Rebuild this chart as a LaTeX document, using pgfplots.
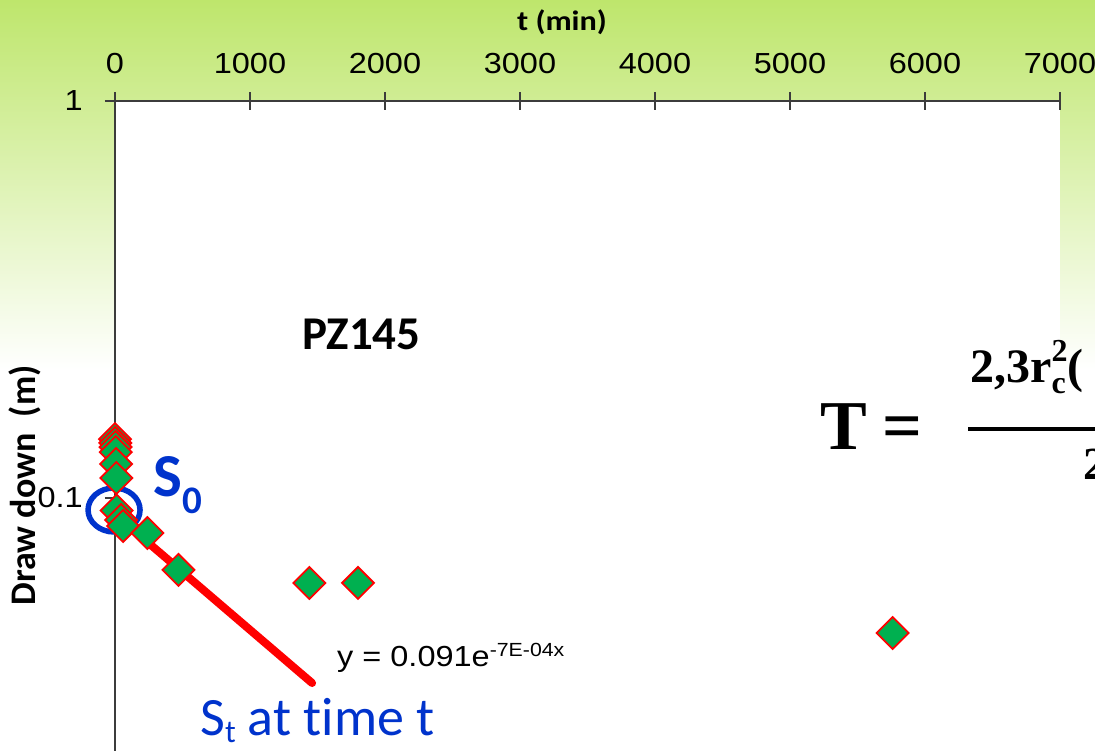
\documentclass[border=0pt]{standalone}
\usepackage[no-math]{fontspec}
\usepackage{pgfplots}
\pgfplotsset{compat=1.18}
\setmainfont{Liberation Sans}
\newfontfamily\chartfont[FakeStretch=1.12]{Liberation Sans}
\newfontfamily\carlito[Ligatures=NoCommon]{Carlito}
\newfontfamily\carlitowide[FakeStretch=1.15, Ligatures=NoCommon]{Carlito}
\newfontfamily\serifbold{Liberation Serif}

\definecolor{bggreen}{RGB}{190,230,108}
\definecolor{markgreen}{RGB}{0,176,80}
\definecolor{noteblue}{RGB}{0,51,204}
\definecolor{axisgray}{RGB}{60,60,60}

% drawdown (m) against time since pumping stopped (min), well PZ145
\pgfplotstableread{
t     s
0     0.1408
2     0.1376
4     0.1344
6     0.1305
8     0.1218
10    0.1123
12    0.0930
45    0.0880
60    0.0850
240   0.0816
470   0.0659
1440  0.0611
1800  0.0611
5760  0.0457
}\drawdown

\begin{document}
\begin{tikzpicture}[x=1pt,y=1pt]
  \clip (0,0) rectangle (1095,750);
  \fill[white] (0,0) rectangle (1095,750);
  \shade[top color=bggreen, bottom color=white] (0,380) rectangle (1095,750);
  \begin{axis}[
    at={(115pt,649pt)}, anchor=north west,
    scale only axis, width=945pt, height=794pt,
    xmin=0, xmax=7000,
    ymode=log, ymin=0.01, ymax=1,
    clip=false,
    axis x line*=top, axis y line*=left,
    axis line style={axisgray, line width=1.4pt},
    axis background/.style={fill=white},
    xtick={0,1000,...,7000},
    ytick={0.1,1}, yticklabels={0.1,1},
    yminorticks=false, xminorticks=false,
    xtick align=center, ytick align=outside,
    major tick length=18pt,
    tick style={axisgray, line width=1.2pt},
    ytick style={/pgfplots/major tick length=10pt},
    scaled x ticks=false,
    /pgf/number format/assume math mode=true,
    /pgf/number format/1000 sep={},
    xticklabel style={font=\chartfont\fontsize{29}{31}\selectfont, inner sep=0pt, anchor=south, yshift=18pt},
    yticklabel style={font=\chartfont\fontsize{29}{31}\selectfont, inner sep=0pt, anchor=east, xshift=-14pt},
    xlabel={t (min)},
    xlabel style={font=\carlitowide\bfseries\fontsize{28}{30}\selectfont, at={(axis description cs:0.473,1.0995)}, anchor=center},
    ylabel={Draw down\ \ (m)},
    ylabel style={font=\carlito\bfseries\fontsize{36}{38}\selectfont, at={(axis description cs:-0.0952,0.516)}, anchor=center},
  ]
    \addplot[only marks, mark=square*, mark size=11.3pt,
      mark options={rotate=45, fill=markgreen, draw=red, line width=1.8pt}]
      table[x=t, y=s] {\drawdown};
    % exponential trendline s = 0.091 exp(-k t), straight on the log axis
    \addplot[red, line width=8pt, line cap=round] coordinates {(0,0.091) (1460,0.0342)};
    \draw[noteblue, line width=5.5pt] (axis cs:-7,0.0933) ellipse [x radius=26pt, y radius=22pt];
  \end{axis}

  % annotations
  \node[anchor=base west, inner sep=0pt] at (302,400)
    {\carlito\bfseries\fontsize{47}{47}\selectfont PZ145};
  \node[anchor=base west, inner sep=0pt, text=noteblue] at (153,253)
    {\carlito\bfseries\fontsize{61}{61}\selectfont S\raisebox{-17pt}{\fontsize{39}{39}\selectfont 0}};
  \node[anchor=base west, inner sep=0pt, text=noteblue] at (200,15)
    {\carlito\fontsize{54}{54}\selectfont S\raisebox{-7pt}{\fontsize{32}{32}\selectfont t} at time t};
  \node[anchor=base west, inner sep=0pt] at (337,84)
    {\chartfont\fontsize{29}{31}\selectfont y = 0.091e\raisebox{10pt}{\fontsize{19}{20}\selectfont -7E-04x}};

  % transmissivity formula
  \node[anchor=base west, inner sep=0pt] at (820,300)
    {\serifbold\bfseries\fontsize{70}{70}\selectfont T};
  \node[anchor=base west, inner sep=0pt] at (882,300)
    {\serifbold\bfseries\fontsize{70}{70}\selectfont =};
  \draw[line width=4pt] (968,321) -- (1100,321);
  \node[anchor=base west, inner sep=0pt] at (970,367)
    {\serifbold\bfseries\fontsize{48}{48}\selectfont 2,3r\rlap{\raisebox{-11pt}{\fontsize{32}{32}\selectfont c}}\raisebox{21pt}{\fontsize{32}{32}\selectfont 2}(};
  \node[anchor=base west, inner sep=0pt] at (1083,270)
    {\serifbold\bfseries\fontsize{46}{46}\selectfont 2};
\end{tikzpicture}
\end{document}
